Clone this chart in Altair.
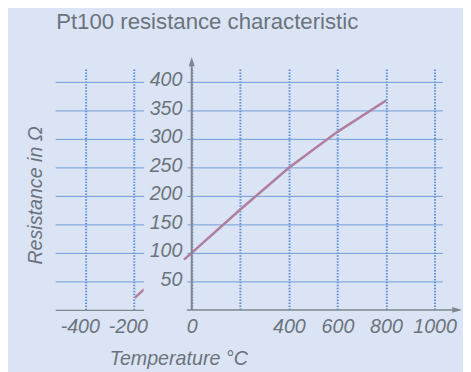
import altair as alt
import pandas as pd

# ---- data ----
temp_left = [-196, -155]          # short visible segment left of the label gap
res_left = [21, 37]
temp_main = [-32, 0, 200, 400, 600, 800]
res_main = [88, 100, 176, 249, 312, 367]
y_ticks = [50, 100, 150, 200, 250, 300, 350, 400]
x_ticks_left = [-400, -200]
x_ticks_right = [0, 200, 400, 600, 800, 1000]
x_hidden_label = 200

BG = "#dbe4f4"
GRID = "#6f9bd6"
VGRID = "#5b8fd8"
LINE = "#b07e9e"
AXIS = "#80868e"
TEXT = "#6b737c"
FONT = "Liberation Sans"

y_scale = alt.Scale(domain=[0, 422], nice=False, zero=False)
xl_scale = alt.Scale(domain=[-527, -159], nice=False, zero=False)
xr_scale = alt.Scale(domain=[-20, 1032], nice=False, zero=False)

lab = dict(labelFont=FONT, labelFontSize=20, labelFontStyle="italic", labelColor=TEXT)
ttl = dict(titleFont=FONT, titleFontSize=20, titleFontStyle="italic", titleColor=TEXT,
           titleFontWeight="normal")
hyphen_expr = "datum.value < 0 ? '-' + format(-datum.value, 'd') : format(datum.value, 'd')"

# ---- left panel ----
left_df = pd.DataFrame({"t": temp_left, "r": res_left})
left = alt.Chart(left_df).mark_line(color=LINE, strokeWidth=2.5, clip=True).encode(
    x=alt.X("t:Q", scale=xl_scale,
            axis=alt.Axis(values=x_ticks_left, title=None, grid=True, gridColor=VGRID,
                          gridDash=[1.5, 1.5], gridWidth=2, ticks=False, domain=True,
                          domainColor=AXIS, domainWidth=1.5, labelPadding=7, labelOffset=-6,
                          labelExpr=hyphen_expr, **lab)),
    y=alt.Y("r:Q", scale=y_scale,
            axis=alt.Axis(values=y_ticks, labels=False, ticks=False, domain=False, grid=True,
                          gridColor=GRID, gridWidth=1, title="Resistance in Ω",
                          titleX=-14, titleY=128, titleAngle=270, titleAlign="center",
                          titleBaseline="alphabetic", **ttl)),
).properties(width=90, height=245)

# ---- right panel ----
main_df = pd.DataFrame({"t": temp_main, "r": res_main})
label_expr = f"datum.value == {x_hidden_label} ? '' : format(datum.value, 'd')"
x_axis_r = alt.Axis(values=x_ticks_right, labelExpr=label_expr, grid=True, gridColor=VGRID,
                    gridDash=[1.5, 1.5], gridWidth=2, ticks=False, domain=False,
                    labelPadding=7, title="Temperature °C", titleX=-79, titleY=40,
                    titleAlign="left", titleBaseline="top", **lab, **ttl)
y_axis_r = alt.Axis(values=y_ticks, grid=True, gridColor=GRID, gridWidth=1, ticks=False,
                    domain=False, labelPadding=5, labelOffset=-2, title=None, format="d", **lab)

main_line = alt.Chart(main_df).mark_line(color=LINE, strokeWidth=2.5, clip=False).encode(
    x=alt.X("t:Q", scale=xr_scale, axis=x_axis_r),
    y=alt.Y("r:Q", scale=y_scale, axis=y_axis_r),
)

yaxis_df = pd.DataFrame({"t": [0], "r0": [0], "r1": [435]})
xaxis_df = pd.DataFrame({"t0": [-20], "t1": [1093], "r": [0]})

y_rule = alt.Chart(yaxis_df).mark_rule(color=AXIS, strokeWidth=2, clip=False).encode(
    x=alt.X("t:Q", scale=xr_scale, axis=x_axis_r),
    y=alt.Y("r0:Q", scale=y_scale, axis=y_axis_r), y2="r1:Q")
x_rule = alt.Chart(xaxis_df).mark_rule(color=AXIS, strokeWidth=1.5, clip=False).encode(
    x=alt.X("t0:Q", scale=xr_scale, axis=x_axis_r), x2="t1:Q",
    y=alt.Y("r:Q", scale=y_scale, axis=y_axis_r))
y_arrow = alt.Chart(yaxis_df).mark_point(shape="M0,-1L0.65,1L-0.65,1Z", filled=True, size=90,
                                          color=AXIS, opacity=1, clip=False).encode(
    x=alt.X("t:Q", scale=xr_scale, axis=x_axis_r),
    y=alt.Y("r1:Q", scale=y_scale, axis=y_axis_r))
x_arrow = alt.Chart(xaxis_df).mark_point(shape="M1,0L-1,-0.6L-1,0.6Z", filled=True, size=100,
                                          color=AXIS, opacity=1, clip=False).encode(
    x=alt.X("t1:Q", scale=xr_scale, axis=x_axis_r),
    y=alt.Y("r:Q", scale=y_scale, axis=y_axis_r))

right = alt.layer(main_line, y_rule, x_rule, y_arrow, x_arrow).properties(width=260, height=245)

chart = alt.hconcat(left, right, spacing=44, bounds="flush").properties(
    title=alt.Title("Pt100 resistance characteristic", anchor="start", frame="group",
                    font=FONT, fontSize=22.6, fontWeight="normal", color=TEXT, offset=24, dx=1),
    background=BG,
    padding={"left": 17, "top": 0, "right": 0, "bottom": 0},
).configure_view(stroke=None)

chart.save("out.html", embed_options={"renderer": "svg", "actions": False})
